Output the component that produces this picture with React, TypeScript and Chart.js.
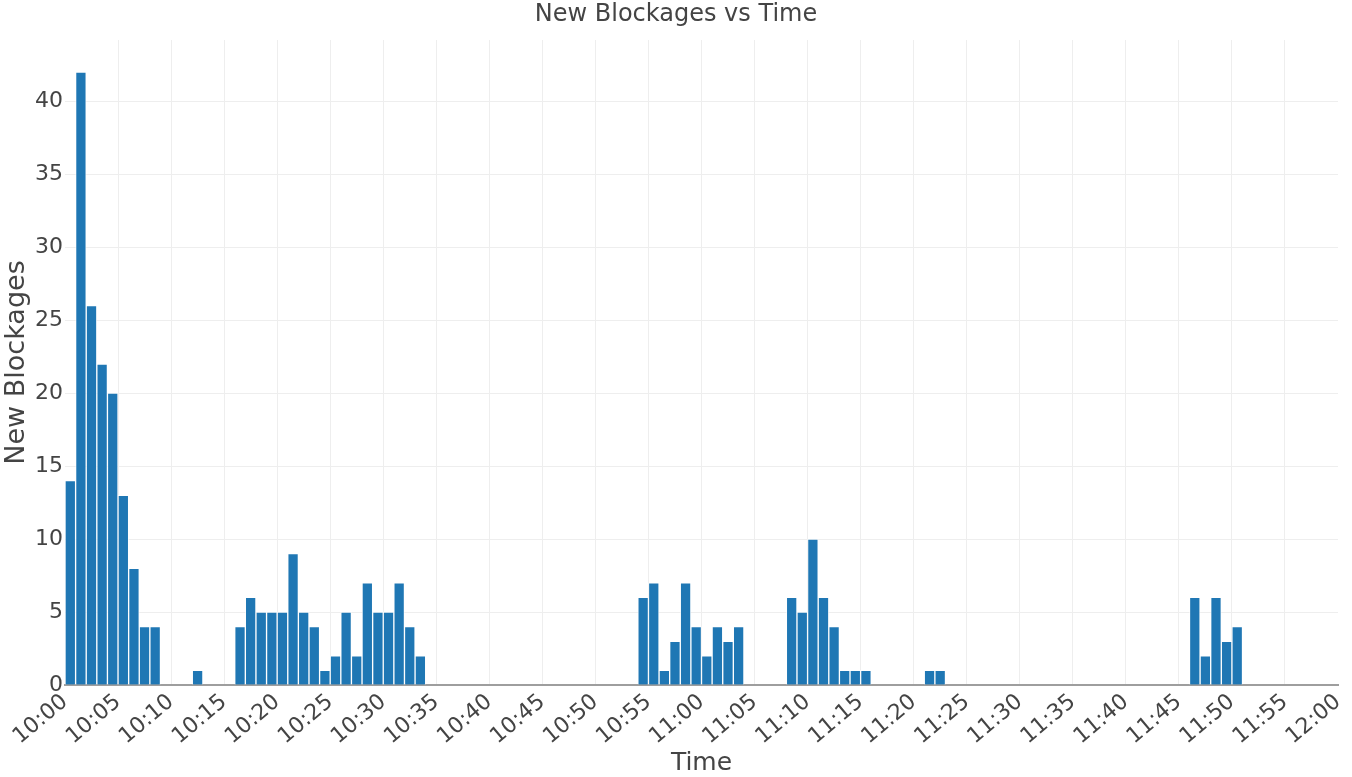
import React, { useEffect, useRef } from "react";
import { Chart, registerables } from "chart.js";

Chart.register(...registerables);

// Start of each one-minute bin that has blockages
const binStarts = [
  "10:00", "10:01", "10:02", "10:03", "10:04", "10:05", "10:06", "10:07", "10:08",
  "10:12",
  "10:16", "10:17", "10:18", "10:19", "10:20", "10:21", "10:22", "10:23", "10:24",
  "10:25", "10:26", "10:27", "10:28", "10:29", "10:30", "10:31", "10:32", "10:33",
  "10:54", "10:55", "10:56", "10:57", "10:58", "10:59", "11:00", "11:01", "11:02", "11:03",
  "11:08", "11:09", "11:10", "11:11", "11:12", "11:13", "11:14", "11:15",
  "11:21", "11:22",
  "11:46", "11:47", "11:48", "11:49", "11:50",
];

// New blockages counted in each bin
const newBlockages = [
  14, 42, 26, 22, 20, 13, 8, 4, 4,
  1,
  4, 6, 5, 5, 5, 9, 5, 4, 1,
  2, 5, 2, 7, 5, 5, 7, 4, 2,
  6, 7, 1, 3, 7, 4, 2, 4, 3, 4,
  6, 5, 10, 6, 4, 1, 1, 1,
  1, 1,
  6, 2, 6, 3, 4,
];

const xTickLabels = [
  "10:00", "10:05", "10:10", "10:15", "10:20", "10:25", "10:30", "10:35", "10:40",
  "10:45", "10:50", "10:55", "11:00", "11:05", "11:10", "11:15", "11:20", "11:25",
  "11:30", "11:35", "11:40", "11:45", "11:50", "11:55", "12:00",
];

const yTickValues = [0, 5, 10, 15, 20, 25, 30, 35, 40];

const chartTitle = "New Blockages vs Time";
const xTitle = "Time";
const yTitle = "New Blockages";

const FONT = '"DejaVu Sans", Verdana, sans-serif';
const TEXT = "#444";

const toMinutes = (t: string) => {
  const [h, m] = t.split(":").map(Number);
  return (h - 10) * 60 + m;
};

export default function App() {
  const ref = useRef<HTMLCanvasElement | null>(null);

  useEffect(() => {
    if (!ref.current) return;
    const titlePlugin = {
      id: "plotTitle",
      afterDraw(chart: any) {
        const ctx = chart.ctx;
        ctx.save();
        ctx.font = `24px ${FONT}`;
        ctx.fillStyle = TEXT;
        ctx.textAlign = "center";
        ctx.textBaseline = "alphabetic";
        ctx.fillText(chartTitle, 676, 21);
        ctx.restore();
      },
    };
    const chart = new Chart(ref.current, {
      type: "bar",
      data: {
        datasets: [
          {
            label: yTitle,
            data: binStarts.map((t, i) => ({ x: toMinutes(t) + 0.5, y: newBlockages[i] })),
            backgroundColor: "#1f77b4",
            borderColor: "rgba(255,255,255,0.65)",
            borderWidth: 1,
            barPercentage: 1,
            categoryPercentage: 1,
          },
        ],
      },
      plugins: [titlePlugin],
      options: {
        responsive: false,
        animation: false,
        layout: { padding: { top: 40, right: 14, left: 0, bottom: 0 } },
        plugins: {
          legend: { display: false },
          title: { display: false },
          tooltip: { enabled: false },
        },
        scales: {
          x: {
            type: "linear",
            min: 0,
            max: 120,
            offset: false,
            afterFit: (s: any) => {
              s.height = 92;
              s.paddingLeft = 0;
              s.paddingRight = 0;
            },
            border: { display: true, color: "#9e9e9e", width: 2 },
            grid: {
              offset: false,
              drawTicks: false,
              color: (c: any) =>
                c.tick && (c.tick.value === 0 || c.tick.value === 120) ? "rgba(0,0,0,0)" : "#eeeeee",
            },
            ticks: {
              stepSize: 5,
              autoSkip: false,
              minRotation: 40,
              maxRotation: 40,
              padding: 4,
              color: TEXT,
              font: { family: FONT, size: 22 },
              callback: (v: any) => xTickLabels[Math.round(Number(v) / 5)] ?? "",
            },
            title: {
              display: true,
              text: xTitle,
              color: TEXT,
              font: { family: FONT, size: 25 },
              padding: { top: 0, bottom: -1 },
            },
          },
          y: {
            min: 0,
            max: 44.2,
            afterFit: (s: any) => {
              s.width = 65;
            },
            afterBuildTicks: (s: any) => {
              s.ticks = yTickValues.map((v) => ({ value: v }));
            },
            border: { display: false },
            grid: { color: "#eeeeee", drawTicks: false },
            ticks: {
              padding: 2,
              color: TEXT,
              font: { family: FONT, size: 22 },
            },
            title: {
              display: true,
              text: yTitle,
              color: TEXT,
              font: { family: FONT, size: 27 },
              padding: { top: 1, bottom: 0 },
            },
          },
        },
      },
    });
    return () => chart.destroy();
  }, []);

  return (
    <div
      style={{
        position: "fixed",
        left: 0,
        top: 0,
        width: 1352,
        height: 777,
        background: "#fff",
      }}
    >
      <canvas ref={ref} width={1352} height={777} style={{ width: 1352, height: 777 }} />
    </div>
  );
}
